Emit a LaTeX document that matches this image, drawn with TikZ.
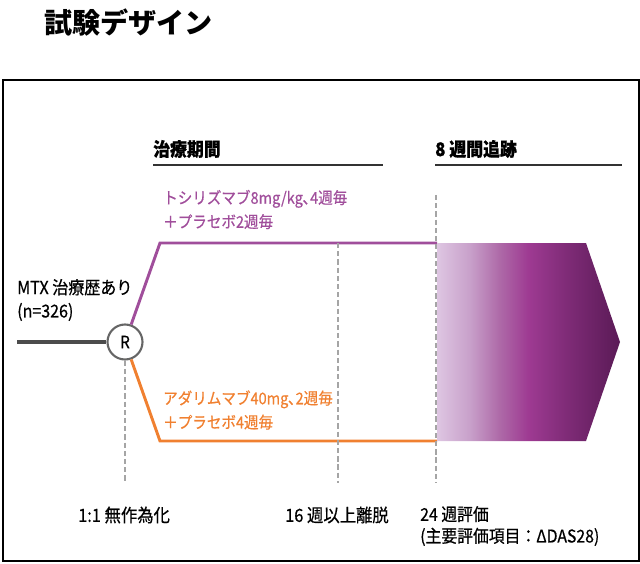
\documentclass[tikz,border=0pt]{standalone}
\usepackage{fontspec}
\setmainfont{Noto Sans CJK JP}[FakeStretch=0.9, FakeBold=0.6]
\newfontfamily\ttlfont{Noto Sans CJK JP}
\usetikzlibrary{positioning,calc}
\definecolor{tczpurple}{RGB}{160,78,155}
\definecolor{adaorange}{RGB}{240,128,48}
\definecolor{fupale}{RGB}{222,198,226}
\definecolor{fulight}{RGB}{200,160,202}
\definecolor{fusoft}{RGB}{174,106,168}
\definecolor{fumid}{RGB}{158,58,146}
\definecolor{fudeep}{RGB}{128,44,120}
\definecolor{fudark}{RGB}{90,26,86}
\definecolor{dashgray}{RGB}{165,165,165}
\pgfdeclarehorizontalshading{followshade}{100bp}{color(0bp)=(fupale); color(25bp)=(fupale);
  color(34bp)=(fulight); color(42bp)=(fusoft); color(50bp)=(fumid);
  color(60bp)=(fudeep); color(75bp)=(fudark); color(100bp)=(fudark)}

\begin{document}
\begin{tikzpicture}[
  x=0.03cm, y=-0.03cm,
  txt/.style={anchor=west, inner sep=0pt, align=left,
              font=\fontsize{13.8}{20.5}\selectfont},
  header/.style={anchor=west, inner sep=0pt,
                 font=\bfseries\fontsize{16}{18}\selectfont},
  hrule/.style={draw=black!80, line width=2pt},
  arm/.style={line width=2.5pt},
  milestone/.style={draw=dashgray, line width=2.1pt, dash pattern=on 4.5pt off 2.5pt}
]
\useasboundingbox (0,0) rectangle (640,564);

% ---- Title and frame ----
\node[anchor=west, inner sep=0pt, font=\ttlfont\bfseries\fontsize{24}{28}\selectfont]
  (title) at (44,23) {試験デザイン};
\draw[black, line width=2.5pt] (3,80) -- (639,80) -- (639,561) -- (3,561) -- cycle;

% ---- Headers ----
\node[header] (hdtreat) at (153,149) {治療期間};
\node[header] (hdfollow) at (435,149) {8 週間追跡};
\coordinate (rt1) at (153,165); \coordinate (rt2) at (383,165);
\coordinate (rf1) at (435,165); \coordinate (rf2) at (622,165);
\draw[hrule] (rt1) -- (rt2);
\draw[hrule] (rf1) -- (rf2);

% ---- Randomisation ----
\node[circle, draw=black!60, line width=1.8pt, minimum size=1.05cm, inner sep=0pt,
      font=\fontsize{14.5}{16}\selectfont] (R) at (125,342) {R};
\coordinate (start) at (17,342);
\draw[black!70, line width=3pt] (start) -- (R);
\node[txt, font=\fontsize{15.2}{20}\selectfont] (pop) at (17,300) {MTX 治療歴あり\\(n=326)};

% ---- Arms ----
\coordinate (tk) at (160,243); \coordinate (tend) at (437,243);
\coordinate (ak) at (160,441); \coordinate (aend) at (437,441);
\draw[arm, tczpurple] (R) -- (tk) -- (tend);
\draw[arm, adaorange] (R) -- (ak) -- (aend);
\node[txt, text=tczpurple] (tczlbl) at (163,209.5)
  {トシリズマブ8mg/kg､4週毎\\＋プラセボ2週毎};
\node[txt, text=adaorange] (adalbl) at (163,410)
  {アダリムマブ40mg､2週毎\\＋プラセボ4週毎};

% ---- Follow-up block ----
\shade[shading=followshade]
  (tend) -- (586,243) -- (620,342) -- (586,441) -- (aend) -- cycle;

% ---- Milestones ----
\coordinate (m1) at (125,483);
\coordinate (m2a) at (338,243); \coordinate (m2) at (338,483);
\coordinate (m3a) at (436,195); \coordinate (m3) at (436,483);
\draw[milestone] (R) -- (m1);
\draw[milestone] (m2a) -- (m2);
\draw[milestone] (m3a) -- (m3);

\node[txt, font=\fontsize{15.5}{18.5}\selectfont] (rand) at (78,515) {1:1 無作為化};
\node[txt, font=\fontsize{15.5}{18.5}\selectfont] (drop) at (285,515) {16 週以上離脱};
\node[txt, font=\fontsize{15}{18.5}\selectfont] (eval) at (420,526)
  {24 週評価\\(主要評価項目：ΔDAS28)};

\end{tikzpicture}
\end{document}
